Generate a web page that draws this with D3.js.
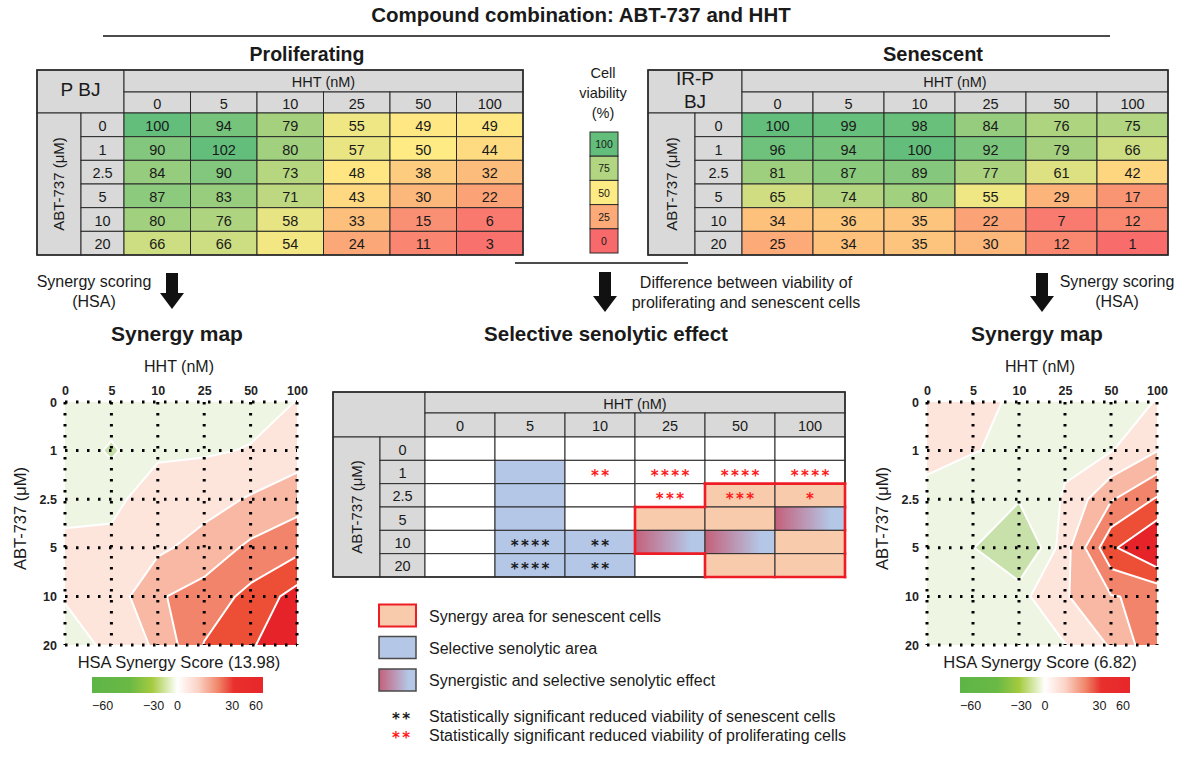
<!DOCTYPE html>
<html>
<head>
<meta charset="utf-8">
<script src="https://cdn.jsdelivr.net/npm/d3@7"></script>
<style>
  body { margin: 0; background: #fff; }
  svg { display: block; font-family: "Liberation Sans", Arial, sans-serif; }
</style>
</head>
<body>
<svg id="fig" width="1186" height="757"></svg>
<script>
// ---- data ----
const hhtLevels = ["0", "5", "10", "25", "50", "100"];
const abtLevels = ["0", "1", "2.5", "5", "10", "20"];

// cell viability (%), rows = ABT-737, cols = HHT
const prolifViability = [
  [100, 94, 79, 55, 49, 49],
  [90, 102, 80, 57, 50, 44],
  [84, 90, 73, 48, 38, 32],
  [87, 83, 71, 43, 30, 22],
  [80, 76, 58, 33, 15, 6],
  [66, 66, 54, 24, 11, 3]
];
const senescentViability = [
  [100, 99, 98, 84, 76, 75],
  [96, 94, 100, 92, 79, 66],
  [81, 87, 89, 77, 61, 42],
  [65, 74, 80, 55, 29, 17],
  [34, 36, 35, 22, 7, 12],
  [25, 34, 35, 30, 12, 1]
];
const viabilitySteps = [100, 75, 50, 25, 0];

// HSA synergy scores
const prolifSynergy = [
  [-3, -4, -3, -3, -3, 0.2],
  [-3, -11.5, -2, -1, 0.5, 5],
  [-3, -3, 6, 6, 11, 16],
  [2, 3, 8, 14, 22, 27],
  [0.5, 4, 19, 24, 33, 44],
  [-3, 1.5, 12, 30.5, 38, 55]
];
const senescentSynergy = [
  [4, 5, -3, -4, -3, 0.3],
  [2.5, 0.6, -3, -2, -0.5, 9.7],
  [-2.5, -9, -9, 1, 19, 31],
  [-3, -9.5, -25, 6, 38, 52],
  [-3, -7, -3, 9, 19.5, 22],
  [-3, -3, -3, -0.3, 11, 28]
];
const contourLevels = [-10, 0, 10, 20, 30, 40];
const contourColors = ["#c8e0a9", "#eef5e3", "#fde5dc", "#f8b8a3", "#f3846c", "#ec4e36", "#e52328"];
const colorbarTicks = [-60, -30, 0, 30, 60];

// selective senolytic table: S = selective, Y = synergy (senescent), B = both
const selectiveArea = [
  ["", "", "", "", "", ""],
  ["", "S", "", "", "", ""],
  ["", "S", "", "", "Y", "Y"],
  ["", "S", "", "Y", "Y", "B"],
  ["", "S", "S", "B", "B", "Y"],
  ["", "S", "S", "", "Y", "Y"]
];
const prolifStars = [
  ["", "", "", "", "", ""],
  ["", "", "**", "****", "****", "****"],
  ["", "", "", "***", "***", "*"],
  ["", "", "", "", "", ""],
  ["", "", "", "", "", ""],
  ["", "", "", "", "", ""]
];
const senescentStars = [
  ["", "", "", "", "", ""],
  ["", "", "", "", "", ""],
  ["", "", "", "", "", ""],
  ["", "", "", "", "", ""],
  ["", "****", "**", "", "", ""],
  ["", "****", "**", "", "", ""]
];
const legendItems = [
  { kind: "Y", label: "Synergy area for senescent cells" },
  { kind: "S", label: "Selective senolytic area" },
  { kind: "B", label: "Synergistic and selective senolytic effect" },
  { kind: "black", label: "Statistically significant reduced viability of senescent cells" },
  { kind: "red", label: "Statistically significant reduced viability of proliferating cells" }
];

// ---- drawing ----
const svg = d3.select("#fig");
const tableGray = "#d9d9d9";
const lineColor = "#2a2a2a";
const blueFill = "#b4c7e7";
const orangeFill = "#f8cbad";
const synergyRed = "#ee1c25";
const legendRowY = [615.5, 647.5, 680, 716, 735];

const viabilityColor = d3.scaleLinear()
  .domain([0, 50, 100])
  .range(["#f8696b", "#ffeb84", "#63be7b"])
  .clamp(true);

const defs = svg.append("defs");
const mix = defs.append("linearGradient").attr("id", "mix");
mix.append("stop").attr("offset", 0).attr("stop-color", "#c4607a");
mix.append("stop").attr("offset", 0.8).attr("stop-color", blueFill);
mix.append("stop").attr("offset", 1).attr("stop-color", blueFill);

const cbarFrac = d3.scaleLinear().domain(colorbarTicks).range([0, 0.36, 0.5, 0.82, 1]);
const cbar = defs.append("linearGradient").attr("id", "cbar");
[[0, "#5db547"], [0.22, "#6ab945"], [0.35, "#a4cb3f"], [0.5, "#ffffff"], [0.62, "#fbd3c6"],
 [0.74, "#f08468"], [0.83, "#e8302c"], [1, "#e8262b"]].forEach(([o, c]) =>
  cbar.append("stop").attr("offset", o).attr("stop-color", c));

function text(g, x, y, str, size, opts = {}) {
  return g.append("text")
    .attr("x", x).attr("y", y)
    .attr("text-anchor", opts.anchor || "middle")
    .attr("fill", opts.fill || "#1a1a1a")
    .style("font-size", size + "px")
    .style("font-weight", opts.bold ? "bold" : null)
    .text(str);
}

function tableFrame(cfg) {
  const g = svg.append("g");
  const colX = d3.scaleBand().domain(hhtLevels).range([cfg.xData, cfg.xRight]);
  const rowY = d3.scaleBand().domain(abtLevels).range([cfg.yBody, cfg.yBottom]);
  const box = (x, y, w, h, fill) => g.append("rect")
    .attr("x", x).attr("y", y).attr("width", w).attr("height", h)
    .attr("fill", fill).attr("stroke", lineColor).attr("stroke-width", 1);
  const label = (x, y, str, size, fill) => text(g, x, y, str, size, { fill })
    .attr("dominant-baseline", "central");

  box(cfg.x0, cfg.yTop, cfg.xData - cfg.x0, cfg.yBody - cfg.yTop, tableGray);
  cfg.corner.forEach((t, i) => text(g, (cfg.x0 + cfg.xData) / 2, cfg.cornerY[i], t, 19));
  box(cfg.xData, cfg.yTop, cfg.xRight - cfg.xData, cfg.yMid - cfg.yTop, tableGray);
  label((cfg.xData + cfg.xRight) / 2, (cfg.yTop + cfg.yMid) / 2 + 1, "HHT (nM)", 14.5);
  hhtLevels.forEach(h => {
    box(colX(h), cfg.yMid, colX.bandwidth(), cfg.yBody - cfg.yMid, tableGray);
    label(colX(h) + colX.bandwidth() / 2, (cfg.yMid + cfg.yBody) / 2 + 1, h, 14.5);
  });
  box(cfg.x0, cfg.yBody, cfg.xSplit - cfg.x0, cfg.yBottom - cfg.yBody, tableGray);
  g.append("text")
    .attr("transform", `translate(${(cfg.x0 + cfg.xSplit) / 2 + 5},${(cfg.yBody + cfg.yBottom) / 2}) rotate(-90)`)
    .attr("text-anchor", "middle")
    .attr("fill", "#1a1a1a")
    .style("font-size", "15px")
    .text("ABT-737 (\u03bcM)");
  abtLevels.forEach(a => {
    box(cfg.xSplit, rowY(a), cfg.xData - cfg.xSplit, rowY.bandwidth(), tableGray);
    label((cfg.xSplit + cfg.xData) / 2, rowY(a) + rowY.bandwidth() / 2 + 1, a, 14.5);
  });
  return { g, colX, rowY, box, label };
}

function outline(g, cfg) {
  g.append("rect")
    .attr("x", cfg.x0).attr("y", cfg.yTop)
    .attr("width", cfg.xRight - cfg.x0).attr("height", cfg.yBottom - cfg.yTop)
    .attr("fill", "none").attr("stroke", lineColor).attr("stroke-width", 1.6);
}

function viabilityTable(cfg, values) {
  const t = tableFrame(cfg);
  values.forEach((row, i) => row.forEach((v, j) => {
    const x = t.colX(hhtLevels[j]), y = t.rowY(abtLevels[i]);
    t.box(x, y, t.colX.bandwidth(), t.rowY.bandwidth(), viabilityColor(v));
    t.label(x + t.colX.bandwidth() / 2, y + t.rowY.bandwidth() / 2 + 1, v, 14.5);
  }));
  outline(t.g, cfg);
}

// title
text(svg, 581, 22, "Compound combination: ABT-737 and HHT", 20.5, { bold: true });
svg.append("line").attr("x1", 103).attr("x2", 1110).attr("y1", 36).attr("y2", 36)
  .attr("stroke", "#111").attr("stroke-width", 1.5);

text(svg, 307, 61, "Proliferating", 19.5, { bold: true });
text(svg, 933, 61, "Senescent", 20, { bold: true });

viabilityTable({
  x0: 37, xSplit: 81, xData: 124, xRight: 523,
  yTop: 70, yMid: 92, yBody: 113, yBottom: 255,
  corner: ["P BJ"], cornerY: [96]
}, prolifViability);

viabilityTable({
  x0: 648, xSplit: 695, xData: 742, xRight: 1168,
  yTop: 70, yMid: 92, yBody: 113, yBottom: 255,
  corner: ["IR-P", "BJ"], cornerY: [85, 108]
}, senescentViability);

// viability legend
["Cell", "viability", "(%)"].forEach((s, i) => text(svg, 603, 78 + i * 20, s, 14.5));
const stepY = d3.scaleBand().domain(viabilitySteps).range([132, 253]);
viabilitySteps.forEach(v => {
  svg.append("rect").attr("x", 590).attr("y", stepY(v)).attr("width", 28).attr("height", stepY.bandwidth())
    .attr("fill", viabilityColor(v)).attr("stroke", lineColor).attr("stroke-width", 1);
  text(svg, 604, stepY(v) + stepY.bandwidth() / 2 + 4, v, 10.5);
});
svg.append("line").attr("x1", 515).attr("x2", 688).attr("y1", 263).attr("y2", 263)
  .attr("stroke", "#111").attr("stroke-width", 1.5);

// arrows
function arrow(cx, top, bottom) {
  const p = d3.path();
  p.moveTo(cx - 6, top); p.lineTo(cx + 6, top); p.lineTo(cx + 6, bottom - 16);
  p.lineTo(cx + 12, bottom - 16); p.lineTo(cx, bottom); p.lineTo(cx - 12, bottom - 16);
  p.lineTo(cx - 6, bottom - 16); p.closePath();
  svg.append("path").attr("d", p.toString()).attr("fill", "#111");
}
arrow(172, 273, 309);
arrow(605, 272, 312);
arrow(1042, 273, 312);

text(svg, 94, 287, "Synergy scoring", 16);
text(svg, 94, 307, "(HSA)", 16);
text(svg, 1117, 287, "Synergy scoring", 16);
text(svg, 1117, 307, "(HSA)", 16);
text(svg, 746, 288, "Difference between viability of", 16);
text(svg, 746, 308, "proliferating and senescent cells", 16);

text(svg, 177, 341, "Synergy map", 21, { bold: true });
text(svg, 1037, 341, "Synergy map", 21, { bold: true });
text(svg, 606, 341, "Selective senolytic effect", 20.5, { bold: true });

// synergy maps
function synergyMap(cfg, grid, score, id) {
  const g = svg.append("g");
  const x = d3.scalePoint().domain(hhtLevels).range([cfg.left, cfg.right]);
  const y = d3.scalePoint().domain(abtLevels).range([cfg.top, cfg.bottom]);
  const sx = x.step(), sy = y.step();
  const proj = d3.geoTransform({
    point(px, py) { this.stream.point(cfg.left + (px - 0.5) * sx, cfg.top + (py - 0.5) * sy); }
  });
  const path = d3.geoPath(proj);
  const contours = d3.contours()
    .size([hhtLevels.length, abtLevels.length])
    .thresholds(contourLevels)(grid.flat());

  defs.append("clipPath").attr("id", id).append("rect")
    .attr("x", cfg.left).attr("y", cfg.top)
    .attr("width", cfg.right - cfg.left).attr("height", cfg.bottom - cfg.top);
  const plot = g.append("g").attr("clip-path", `url(#${id})`);
  plot.append("rect").attr("x", cfg.left).attr("y", cfg.top)
    .attr("width", cfg.right - cfg.left).attr("height", cfg.bottom - cfg.top)
    .attr("fill", contourColors[0]);
  plot.selectAll("path").data(contours).join("path")
    .attr("d", path)
    .attr("fill", (d, i) => contourColors[i + 1])
    .attr("stroke", "#fff").attr("stroke-width", 2).attr("stroke-linejoin", "round");

  // dotted grid
  hhtLevels.forEach(h => g.append("line")
    .attr("x1", x(h)).attr("x2", x(h)).attr("y1", cfg.top).attr("y2", cfg.bottom)
    .attr("stroke", "#000").attr("stroke-width", 3).attr("stroke-dasharray", "2.5 8.5"));
  abtLevels.forEach(a => g.append("line")
    .attr("x1", cfg.left).attr("x2", cfg.right).attr("y1", y(a)).attr("y2", y(a))
    .attr("stroke", "#000").attr("stroke-width", 3).attr("stroke-dasharray", "2.5 8.5"));

  const top = g.append("g").attr("transform", `translate(0,${cfg.top})`)
    .call(d3.axisTop(x).tickSize(0).tickPadding(7));
  const left = g.append("g").attr("transform", `translate(${cfg.left},0)`)
    .call(d3.axisLeft(y).tickSize(0).tickPadding(8));
  [top, left].forEach(ax => {
    ax.select(".domain").remove();
    ax.selectAll("text").style("font-size", "12.5px").style("font-weight", "bold")
      .style("font-family", "'Liberation Sans', Arial, sans-serif").attr("fill", "#222");
  });

  const cx = (cfg.left + cfg.right) / 2;
  text(g, cx - 2, 372, "HHT (nM)", 16);
  g.append("text")
    .attr("transform", `translate(${cfg.left - 39},${(cfg.top + cfg.bottom) / 2 - 5}) rotate(-90)`)
    .attr("text-anchor", "middle").attr("fill", "#1a1a1a").style("font-size", "16.5px")
    .text("ABT-737 (\u03bcM)");
  text(g, cx - 2, 668, `HSA Synergy Score (${score})`, 16.5);

  // colorbar
  const bx = d3.scaleLinear().range([cfg.barLeft, cfg.barRight]);
  g.append("rect").attr("x", cfg.barLeft).attr("y", 677)
    .attr("width", cfg.barRight - cfg.barLeft).attr("height", 16).attr("fill", "url(#cbar)");
  colorbarTicks.forEach((v, i) => {
    const anchor = i === 0 ? "start" : i === colorbarTicks.length - 1 ? "end" : "middle";
    text(g, bx(cbarFrac(v)), 710, d3.format("d")(v), 12.5, { anchor });
  });
}

synergyMap({ left: 65, right: 297, top: 402, bottom: 645, barLeft: 92, barRight: 263 },
  prolifSynergy, "13.98", "clipL");
synergyMap({ left: 927, right: 1157, top: 402, bottom: 645, barLeft: 960, barRight: 1130 },
  senescentSynergy, "6.82", "clipR");

// selective senolytic table
const areaFill = { "": "#fff", S: blueFill, Y: orangeFill, B: "url(#mix)" };
const selCfg = {
  x0: 333, xSplit: 380, xData: 425, xRight: 845,
  yTop: 392, yMid: 413, yBody: 437, yBottom: 577,
  corner: [], cornerY: []
};
const sel = tableFrame(selCfg);
const cw = sel.colX.bandwidth(), ch = sel.rowY.bandwidth();

function stars(g, cx, cy, str, color) {
  if (!str) return;
  g.append("text").attr("x", cx + 1.2).attr("y", cy + 9)
    .attr("text-anchor", "middle").attr("fill", color)
    .style("font-family", "'DejaVu Sans', sans-serif")
    .style("font-size", "15px").style("font-weight", "bold").style("letter-spacing", "2.4px")
    .text(str);
}

selectiveArea.forEach((row, i) => row.forEach((k, j) => {
  const x = sel.colX(hhtLevels[j]), y = sel.rowY(abtLevels[i]);
  sel.box(x, y, cw, ch, areaFill[k]);
  stars(sel.g, x + cw / 2, y + ch / 2, prolifStars[i][j], "#ff1a1a");
  stars(sel.g, x + cw / 2, y + ch / 2, senescentStars[i][j], "#1a1a1a");
}));
outline(sel.g, selCfg);

// red outline around the synergy area
const inSyn = (i, j) => i >= 0 && i < abtLevels.length && j >= 0 && j < hhtLevels.length &&
  (selectiveArea[i][j] === "Y" || selectiveArea[i][j] === "B");
selectiveArea.forEach((row, i) => row.forEach((k, j) => {
  if (!inSyn(i, j)) return;
  const x = sel.colX(hhtLevels[j]), y = sel.rowY(abtLevels[i]);
  const edges = [
    [!inSyn(i - 1, j), x, y, x + cw, y],
    [!inSyn(i + 1, j), x, y + ch, x + cw, y + ch],
    [!inSyn(i, j - 1), x, y, x, y + ch],
    [!inSyn(i, j + 1), x + cw, y, x + cw, y + ch]
  ];
  edges.filter(e => e[0]).forEach(e => sel.g.append("line")
    .attr("x1", e[1]).attr("y1", e[2]).attr("x2", e[3]).attr("y2", e[4])
    .attr("stroke", synergyRed).attr("stroke-width", 2.6).attr("stroke-linecap", "square"));
}));

// legend
legendItems.forEach((item, i) => {
  const cy = legendRowY[i];
  if (item.kind === "red" || item.kind === "black") {
    stars(svg, 401, cy - 1, "**", item.kind === "red" ? "#ff1a1a" : "#1a1a1a");
  } else {
    svg.append("rect").attr("x", 379).attr("y", cy - 11).attr("width", 37).attr("height", 22)
      .attr("fill", areaFill[item.kind])
      .attr("stroke", item.kind === "Y" ? synergyRed : "#4a4a4a")
      .attr("stroke-width", item.kind === "Y" ? 2 : 1.5);
  }
  text(svg, 429, cy + 6, item.label, 16, { anchor: "start" });
});
</script>
</body>
</html>
